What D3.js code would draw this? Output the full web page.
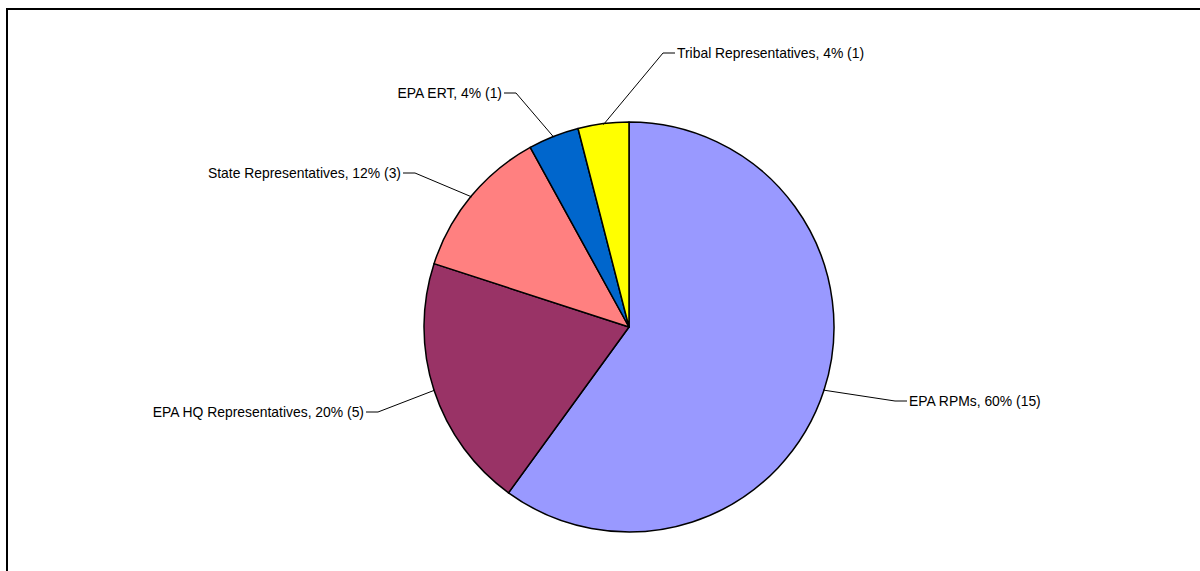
<!DOCTYPE html>
<html>
<head>
<meta charset="utf-8">
<script src="https://cdn.jsdelivr.net/npm/d3@7"></script>
<style>
  body { margin: 0; background: #fff; }
  svg { display: block; font-family: "Liberation Sans", Arial, sans-serif; }
</style>
</head>
<body>
<svg id="chart"></svg>
<script>
// Slice data, clockwise from 12 o'clock
const categories = ['EPA RPMs', 'EPA HQ Representatives', 'State Representatives', 'EPA ERT', 'Tribal Representatives'];
const counts = [15, 5, 3, 1, 1];
const colors = ['#9999FF', '#993366', '#FF8080', '#0066CC', '#FFFF00'];

// Label elbow offsets from the pie centre (layout only)
const labelElbow = [[266, 74], [-251, 85], [-214, -154], [-113, -234], [34, -274]];
const labelSide = ['right', 'left', 'left', 'left', 'right'];

const width = 1200, height = 571;
const cx = 629, cy = 327, radius = 205;

const svg = d3.select('#chart')
    .attr('width', width)
    .attr('height', height);

// Outer frame (only top and left edges fall inside the view)
svg.append('rect')
    .attr('x', 7)
    .attr('y', 9)
    .attr('width', 1400)
    .attr('height', 800)
    .attr('fill', 'none')
    .attr('stroke', '#000')
    .attr('stroke-width', 2);

const total = d3.sum(counts);
const data = categories.map((c, i) => ({ name: c, value: counts[i], color: colors[i], idx: i }));

const pie = d3.pie()
    .value(d => d.value)
    .sort(null);

const arc = d3.arc()
    .innerRadius(0)
    .outerRadius(radius);

const g = svg.append('g')
    .attr('transform', `translate(${cx},${cy})`);

const arcs = pie(data);

g.selectAll('path.slice')
    .data(arcs)
    .enter()
    .append('path')
    .attr('class', 'slice')
    .attr('d', arc)
    .attr('fill', d => d.data.color)
    .attr('stroke', '#000')
    .attr('stroke-width', 1.5)
    .attr('stroke-linejoin', 'round');

// Leader lines and labels
arcs.forEach(d => {
    const i = d.data.idx;
    const mid = (d.startAngle + d.endAngle) / 2;
    const sx = Math.sin(mid) * (radius - 1);
    const sy = -Math.cos(mid) * (radius - 1);
    const [ex, ey] = labelElbow[i];
    const stub = labelSide[i] === 'right' ? 12 : -12;

    g.append('polyline')
        .attr('points', `${sx},${sy} ${ex},${ey} ${ex + stub},${ey}`)
        .attr('fill', 'none')
        .attr('stroke', '#000')
        .attr('stroke-width', 1);

    const pct = Math.round(d.data.value / total * 100);
    g.append('text')
        .attr('x', ex + stub + (labelSide[i] === 'right' ? 2 : -2))
        .attr('y', ey)
        .attr('dy', '0.35em')
        .attr('text-anchor', labelSide[i] === 'right' ? 'start' : 'end')
        .style('font-size', '13.9px')
        .style('fill', '#000')
        .text(`${d.data.name}, ${pct}% (${d.data.value})`);
});
</script>
</body>
</html>
